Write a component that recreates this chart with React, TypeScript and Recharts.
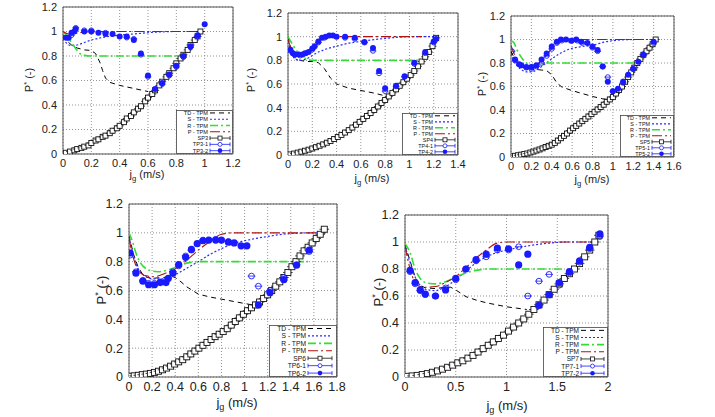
import React from 'react';
import { ComposedChart, Line, Scatter, XAxis, YAxis, CartesianGrid, ReferenceArea } from 'recharts';

type P = [number, number];

// ---------- Panel 1 (SP3) ----------
const p1XTicks = [0, 0.2, 0.4, 0.6, 0.8, 1, 1.2];
const p1Names = ['TD - TPM', 'S - TPM', 'R - TPM', 'P - TPM', 'SP3', 'TP3-1', 'TP3-2'];
const p1TD: P[] = [[0,0.97],[0.03,0.92],[0.06,0.89],[0.1,0.865],[0.15,0.85],[0.2,0.845],[0.23,0.82],[0.26,0.75],[0.28,0.68],[0.3,0.62],[0.33,0.585],[0.4,0.56],[0.5,0.535],[0.6,0.51]];
const p1S: P[] = [[0,0.94],[0.03,0.9],[0.06,0.885],[0.1,0.89],[0.15,0.91],[0.2,0.93],[0.3,0.955],[0.4,0.97],[0.5,0.98],[0.6,0.99],[0.8,1.0],[1.0,1.0]];
const p1R: P[] = [[0,1.0],[0.03,0.96],[0.06,0.91],[0.09,0.86],[0.12,0.82],[0.15,0.805],[0.2,0.8],[0.4,0.8],[0.6,0.8],[0.85,0.8]];
const p1P: P[] = [[0,1.0],[0.04,0.98],[0.08,0.985],[0.15,0.995],[0.3,1.0],[0.6,1.0],[1.0,1.0]];
const p1SP: P[] = [[0.02,0.01],[0.05,0.02],[0.08,0.03],[0.1,0.04],[0.13,0.05],[0.15,0.06],[0.18,0.07],[0.2,0.09],[0.23,0.11],[0.25,0.12],[0.28,0.14],[0.3,0.15],[0.33,0.17],[0.35,0.19],[0.38,0.21],[0.4,0.23],[0.43,0.26],[0.45,0.29],[0.48,0.31],[0.5,0.34],[0.53,0.37],[0.55,0.39],[0.58,0.43],[0.6,0.46],[0.63,0.49],[0.65,0.52],[0.68,0.56],[0.7,0.59],[0.73,0.63],[0.75,0.66],[0.78,0.7],[0.8,0.74],[0.83,0.78],[0.85,0.81],[0.88,0.85],[0.9,0.89],[0.93,0.93],[0.95,0.96],[0.97,1.0]];
const p1TP1: P[] = [[0.03,0.95],[0.06,0.97],[0.09,1.03],[0.15,1.01],[0.2,1.01],[0.3,0.99],[0.45,0.95],[0.5,0.94],[0.55,0.81],[0.6,0.63],[0.7,0.57],[0.75,0.64],[0.8,0.71],[0.85,0.79],[0.9,0.87],[0.95,0.96]];
const p1TP2: P[] = [[0.02,0.95],[0.04,0.95],[0.06,0.99],[0.08,1.0],[0.09,1.02],[0.15,1.0],[0.2,1.0],[0.25,0.99],[0.3,0.98],[0.35,0.98],[0.4,0.96],[0.45,0.96],[0.5,0.93],[0.55,0.82],[0.6,0.64],[0.65,0.53],[0.7,0.58],[0.75,0.65],[0.8,0.72],[0.85,0.8],[0.9,0.88],[0.95,0.97],[1.0,1.06]];

// ---------- Panel 2 (SP4) ----------
const p2XTicks = [0, 0.2, 0.4, 0.6, 0.8, 1, 1.2, 1.4];
const p2Names = ['TD - TPM', 'S - TPM', 'R - TPM', 'P - TPM', 'SP4', 'TP4-1', 'TP4-2'];
const p2TD: P[] = [[0,1.0],[0.03,0.88],[0.06,0.82],[0.1,0.8],[0.15,0.79],[0.2,0.79],[0.25,0.78],[0.3,0.73],[0.35,0.65],[0.4,0.6],[0.5,0.565],[0.6,0.545],[0.7,0.525],[0.8,0.5]];
const p2S: P[] = [[0,0.96],[0.03,0.86],[0.06,0.81],[0.1,0.8],[0.15,0.81],[0.2,0.84],[0.25,0.87],[0.3,0.89],[0.4,0.92],[0.5,0.945],[0.6,0.96],[0.8,0.985],[1.0,1.0],[1.22,1.0]];
const p2R: P[] = [[0,1.0],[0.04,0.93],[0.08,0.87],[0.12,0.83],[0.16,0.81],[0.2,0.8],[0.4,0.8],[0.8,0.8],[1.1,0.8]];
const p2P: P[] = [[0,0.98],[0.03,0.89],[0.06,0.86],[0.1,0.85],[0.15,0.86],[0.2,0.9],[0.25,0.95],[0.3,0.985],[0.35,1.0],[0.6,1.0],[0.9,1.0],[1.1,1.0]];
const p2SP: P[] = [[0.02,0.005],[0.05,0.012],[0.08,0.02],[0.11,0.028],[0.14,0.036],[0.17,0.045],[0.2,0.055],[0.23,0.066],[0.26,0.078],[0.29,0.09],[0.32,0.104],[0.35,0.118],[0.38,0.135],[0.41,0.152],[0.44,0.17],[0.47,0.19],[0.5,0.21],[0.53,0.232],[0.56,0.256],[0.59,0.28],[0.62,0.305],[0.65,0.33],[0.68,0.355],[0.71,0.38],[0.74,0.41],[0.77,0.44],[0.8,0.465],[0.83,0.495],[0.86,0.525],[0.89,0.555],[0.92,0.585],[0.95,0.615],[0.98,0.645],[1.01,0.675],[1.04,0.71],[1.07,0.75],[1.1,0.79],[1.13,0.83],[1.16,0.87],[1.19,0.92],[1.22,0.99]];
const p2TP1: P[] = [[0.02,0.88],[0.05,0.85],[0.1,0.84],[0.15,0.86],[0.2,0.89],[0.25,0.95],[0.3,0.99],[0.47,0.99],[0.55,0.98],[0.63,0.95],[0.7,0.88],[0.75,0.69],[0.8,0.54],[0.89,0.58],[0.96,0.66],[1.04,0.77],[1.13,0.86],[1.2,0.95]];
const p2TP2: P[] = [[0.02,0.89],[0.04,0.86],[0.06,0.85],[0.09,0.85],[0.12,0.85],[0.14,0.86],[0.17,0.87],[0.2,0.9],[0.22,0.92],[0.25,0.96],[0.28,0.99],[0.31,1.0],[0.34,1.01],[0.37,1.01],[0.4,1.0],[0.47,1.0],[0.55,0.99],[0.63,0.955],[0.7,0.905],[0.75,0.71],[0.8,0.565],[0.89,0.585],[0.96,0.665],[1.04,0.78],[1.13,0.87],[1.2,0.96],[1.22,0.98]];

// ---------- Panel 3 (SP5) ----------
const p3XTicks = [0, 0.2, 0.4, 0.6, 0.8, 1, 1.2, 1.4, 1.6];
const p3Names = ['TD - TPM', 'S - TPM', 'R - TPM', 'P - TPM', 'SP5', 'TP5-1', 'TP5-2'];
const p3TD: P[] = [[0,0.9],[0.05,0.81],[0.1,0.77],[0.15,0.755],[0.2,0.75],[0.25,0.745],[0.3,0.74],[0.35,0.735],[0.4,0.7],[0.45,0.63],[0.5,0.595],[0.6,0.565],[0.7,0.54],[0.8,0.515],[0.9,0.495],[0.95,0.49]];
const p3S: P[] = [[0,0.88],[0.05,0.79],[0.1,0.745],[0.15,0.725],[0.2,0.725],[0.25,0.74],[0.3,0.77],[0.4,0.835],[0.5,0.89],[0.6,0.925],[0.7,0.94],[0.8,0.95],[0.9,0.975],[1.0,0.99],[1.2,1.0],[1.42,1.0]];
const p3R: P[] = [[0,0.99],[0.03,0.97],[0.06,0.91],[0.1,0.85],[0.15,0.8],[0.2,0.785],[0.25,0.785],[0.3,0.79],[0.35,0.8],[0.6,0.8],[0.9,0.8],[1.2,0.8]];
const p3P: P[] = [[0,0.95],[0.04,0.86],[0.08,0.8],[0.12,0.78],[0.18,0.77],[0.24,0.78],[0.3,0.82],[0.36,0.88],[0.42,0.94],[0.5,0.985],[0.6,1.0],[0.9,1.0],[1.2,1.0],[1.42,1.0]];
const p3SP: P[] = [[0.01,0.005],[0.04,0.01],[0.07,0.015],[0.1,0.02],[0.13,0.025],[0.16,0.03],[0.19,0.038],[0.22,0.046],[0.25,0.055],[0.28,0.064],[0.31,0.074],[0.34,0.085],[0.37,0.095],[0.4,0.105],[0.43,0.12],[0.46,0.14],[0.49,0.16],[0.52,0.18],[0.55,0.2],[0.58,0.225],[0.61,0.245],[0.64,0.265],[0.67,0.285],[0.7,0.305],[0.73,0.325],[0.76,0.345],[0.79,0.365],[0.82,0.385],[0.85,0.405],[0.88,0.425],[0.91,0.445],[0.94,0.47],[0.97,0.49],[1.0,0.51],[1.03,0.54],[1.06,0.57],[1.09,0.6],[1.12,0.64],[1.15,0.68],[1.18,0.72],[1.21,0.76],[1.24,0.8],[1.27,0.835],[1.3,0.87],[1.33,0.9],[1.36,0.93],[1.39,0.96],[1.42,1.0]];
const p3TP1: P[] = [[0.01,0.9],[0.04,0.82],[0.1,0.78],[0.15,0.76],[0.2,0.75],[0.25,0.77],[0.3,0.8],[0.35,0.86],[0.4,0.92],[0.45,0.97],[0.5,0.99],[0.6,0.99],[0.65,0.99],[0.7,0.97],[0.8,0.93],[0.85,0.9],[0.9,0.77],[0.95,0.68],[1.0,0.56],[1.1,0.63],[1.2,0.75],[1.3,0.87],[1.4,0.97]];
const p3TP2: P[] = [[0.04,0.83],[0.08,0.79],[0.1,0.78],[0.15,0.765],[0.2,0.765],[0.25,0.78],[0.3,0.83],[0.35,0.88],[0.4,0.94],[0.45,0.98],[0.49,1.0],[0.54,1.0],[0.59,0.99],[0.64,1.0],[0.69,0.98],[0.75,0.97],[0.8,0.94],[0.85,0.91],[0.9,0.77],[0.95,0.64],[1.0,0.56],[1.05,0.58],[1.1,0.64],[1.15,0.7],[1.2,0.75],[1.25,0.81],[1.3,0.87],[1.4,0.98]];

// ---------- Panel 4 (SP6) ----------
const p4XTicks = [0, 0.2, 0.4, 0.6, 0.8, 1, 1.2, 1.4, 1.6, 1.8];
const p4Names = ['TD - TPM', 'S - TPM', 'R - TPM', 'P - TPM', 'SP6', 'TP6-1', 'TP6-2'];
const p4TD: P[] = [[0,0.98],[0.04,0.85],[0.08,0.76],[0.12,0.71],[0.16,0.69],[0.2,0.685],[0.3,0.69],[0.36,0.7],[0.4,0.69],[0.45,0.66],[0.5,0.625],[0.55,0.6],[0.6,0.575],[0.7,0.555],[0.8,0.54],[0.9,0.525],[1.0,0.51],[1.1,0.495]];
const p4S: P[] = [[0,0.97],[0.04,0.84],[0.08,0.75],[0.12,0.71],[0.16,0.69],[0.2,0.68],[0.3,0.68],[0.4,0.71],[0.5,0.755],[0.6,0.8],[0.7,0.85],[0.8,0.89],[0.9,0.925],[1.0,0.945],[1.2,0.975],[1.4,0.995],[1.6,1.0],[1.7,1.0]];
const p4R: P[] = [[0,1.0],[0.03,0.94],[0.06,0.86],[0.1,0.79],[0.15,0.75],[0.2,0.735],[0.25,0.73],[0.3,0.735],[0.35,0.745],[0.4,0.76],[0.45,0.775],[0.5,0.79],[0.6,0.8],[0.8,0.8],[1.0,0.8],[1.2,0.8],[1.55,0.8]];
const p4P: P[] = [[0,0.96],[0.04,0.82],[0.08,0.74],[0.12,0.71],[0.16,0.7],[0.2,0.695],[0.25,0.7],[0.3,0.715],[0.4,0.75],[0.5,0.81],[0.6,0.88],[0.7,0.94],[0.8,0.99],[0.9,1.0],[1.2,1.0],[1.7,1.0]];
const p4SP: P[] = [[0.01,0.005],[0.045,0.008],[0.08,0.012],[0.115,0.016],[0.15,0.02],[0.185,0.025],[0.22,0.032],[0.255,0.04],[0.29,0.05],[0.325,0.062],[0.36,0.075],[0.395,0.09],[0.43,0.105],[0.465,0.12],[0.5,0.14],[0.535,0.16],[0.57,0.18],[0.605,0.2],[0.64,0.22],[0.675,0.24],[0.71,0.26],[0.745,0.28],[0.78,0.297],[0.815,0.315],[0.85,0.335],[0.885,0.36],[0.92,0.385],[0.955,0.41],[0.99,0.435],[1.025,0.46],[1.06,0.48],[1.095,0.5],[1.13,0.52],[1.165,0.545],[1.2,0.57],[1.235,0.6],[1.27,0.63],[1.305,0.66],[1.34,0.69],[1.375,0.725],[1.41,0.765],[1.445,0.8],[1.48,0.84],[1.515,0.875],[1.55,0.9],[1.585,0.93],[1.62,0.96],[1.655,0.99],[1.69,1.025]];
const p4TP1: P[] = [[0.01,0.845],[0.06,0.73],[0.12,0.67],[0.17,0.65],[0.22,0.65],[0.27,0.66],[0.32,0.665],[0.38,0.73],[0.43,0.77],[0.49,0.84],[0.54,0.88],[0.64,0.95],[0.75,0.955],[0.86,0.94],[1.06,0.7],[1.12,0.63],[1.22,0.6],[1.34,0.69],[1.45,0.78],[1.56,0.87]];
const p4TP2: P[] = [[0.01,0.86],[0.06,0.72],[0.12,0.665],[0.17,0.64],[0.22,0.64],[0.27,0.655],[0.32,0.655],[0.34,0.685],[0.38,0.72],[0.43,0.78],[0.49,0.83],[0.54,0.885],[0.59,0.925],[0.64,0.945],[0.69,0.95],[0.75,0.95],[0.8,0.95],[0.86,0.935],[0.91,0.93],[0.97,0.91],[1.02,0.91],[1.12,0.5],[1.22,0.585],[1.34,0.675],[1.45,0.775],[1.56,0.88]];

// ---------- Panel 5 (SP7) ----------
const p5XTicks = [0, 0.5, 1, 1.5, 2];
const p5Names = ['TD - TPM', 'S - TPM', 'R - TPM', 'P - TPM', 'SP7', 'TP7-1', 'TP7-2'];
const p5TD: P[] = [[0,0.98],[0.05,0.86],[0.1,0.74],[0.15,0.68],[0.2,0.66],[0.3,0.655],[0.4,0.665],[0.45,0.665],[0.5,0.645],[0.6,0.595],[0.7,0.57],[0.8,0.55],[0.9,0.535],[1.0,0.52],[1.1,0.51],[1.2,0.5]];
const p5S: P[] = [[0,0.97],[0.05,0.85],[0.1,0.74],[0.15,0.68],[0.2,0.65],[0.3,0.64],[0.4,0.67],[0.5,0.72],[0.6,0.785],[0.7,0.845],[0.8,0.89],[0.9,0.92],[1.0,0.94],[1.2,0.97],[1.4,0.99],[1.6,1.0],[1.9,1.0]];
const p5R: P[] = [[0,0.99],[0.05,0.92],[0.1,0.8],[0.15,0.73],[0.2,0.7],[0.3,0.69],[0.4,0.705],[0.5,0.74],[0.6,0.77],[0.7,0.79],[0.8,0.8],[1.0,0.8],[1.3,0.8],[1.55,0.8]];
const p5P: P[] = [[0,0.97],[0.05,0.8],[0.1,0.7],[0.15,0.67],[0.2,0.665],[0.3,0.67],[0.4,0.7],[0.5,0.745],[0.6,0.81],[0.7,0.88],[0.8,0.94],[0.9,0.99],[1.0,1.0],[1.5,1.0],[1.9,1.0]];
const p5SP: P[] = [[0.02,0.005],[0.07,0.008],[0.12,0.012],[0.17,0.018],[0.22,0.025],[0.27,0.035],[0.32,0.045],[0.37,0.058],[0.42,0.072],[0.47,0.088],[0.52,0.105],[0.57,0.12],[0.62,0.14],[0.67,0.16],[0.72,0.185],[0.77,0.21],[0.82,0.235],[0.87,0.26],[0.92,0.285],[0.97,0.31],[1.02,0.34],[1.07,0.37],[1.12,0.4],[1.17,0.43],[1.22,0.465],[1.27,0.5],[1.32,0.535],[1.37,0.57],[1.42,0.61],[1.47,0.65],[1.52,0.69],[1.57,0.73],[1.62,0.765],[1.67,0.8],[1.72,0.84],[1.77,0.89],[1.82,0.94],[1.87,1.0],[1.91,1.05]];
const p5TP1: P[] = [[0.05,0.78],[0.1,0.69],[0.15,0.64],[0.2,0.61],[0.3,0.6],[0.4,0.66],[0.5,0.72],[0.6,0.8],[0.7,0.86],[0.8,0.89],[0.91,0.94],[1.02,0.94],[1.12,0.965],[1.21,0.6],[1.32,0.71],[1.42,0.76],[1.52,0.68],[1.62,0.77],[1.72,0.85],[1.82,0.95],[1.92,1.04]];
const p5TP2: P[] = [[0.05,0.79],[0.1,0.7],[0.15,0.645],[0.2,0.615],[0.3,0.6],[0.4,0.645],[0.5,0.73],[0.6,0.8],[0.7,0.87],[0.8,0.91],[0.91,0.955],[1.02,0.95],[1.12,0.83],[1.21,0.91],[1.32,0.53],[1.42,0.61],[1.52,0.7],[1.62,0.78],[1.72,0.86],[1.82,0.96],[1.92,1.06]];

const yTicks = [0, 0.2, 0.4, 0.6, 0.8, 1, 1.2];

const FONT = '"Liberation Sans", Arial, Helvetica, sans-serif';
const C_TD = '#000000';
const C_S = '#2a2aff';
const C_R = '#33dd33';
const C_P = '#b01010';
const C_BLUE = '#1a1aff';
const D_TD = '5 4';
const D_S = '2 2';
const D_R = '8 3 2 3';
const D_P = '10 3 2 3';

const toObj = (a: P[]) => a.map(([x, y]) => ({ x, y }));

type Cfg = {
  plot: { l: number; t: number; r: number; b: number };
  xMax: number;
  xTicks: number[];
  names: string[];
  td: P[]; s: P[]; rr: P[]; p: P[]; sp: P[]; tp1: P[]; tp2: P[];
  fs: number;
  mk: number;
  legend: { x: number; y: number; w: number; h: number; fs: number; te: number; s1: number; s2: number };
  ylab: { x: number; y: number };
  xlab: { x: number; y: number };
  tfs: number;
};

const cfgs: Cfg[] = [
  { plot: { l: 63, t: 7, r: 233, b: 154 }, xMax: 1.2, xTicks: p1XTicks, names: p1Names, td: p1TD, s: p1S, rr: p1R, p: p1P, sp: p1SP, tp1: p1TP1, tp2: p1TP2, fs: 11, mk: 1,
    legend: { x: 176, y: 110, w: 57, h: 44, fs: 5.6, te: 32, s1: 34, s2: 54 }, ylab: { x: 29, y: 80 }, xlab: { x: 147, y: 176 }, tfs: 11 },
  { plot: { l: 288, t: 13, r: 458, b: 155 }, xMax: 1.4, xTicks: p2XTicks, names: p2Names, td: p2TD, s: p2S, rr: p2R, p: p2P, sp: p2SP, tp1: p2TP1, tp2: p2TP2, fs: 11, mk: 1,
    legend: { x: 402, y: 113, w: 56, h: 42, fs: 5.4, te: 31, s1: 33, s2: 53 }, ylab: { x: 251, y: 80 }, xlab: { x: 372, y: 180 }, tfs: 11 },
  { plot: { l: 511, t: 16, r: 674, b: 157 }, xMax: 1.6, xTicks: p3XTicks, names: p3Names, td: p3TD, s: p3S, rr: p3R, p: p3P, sp: p3SP, tp1: p3TP1, tp2: p3TP2, fs: 11, mk: 1,
    legend: { x: 620, y: 115, w: 54, h: 42, fs: 5.4, te: 30, s1: 32, s2: 51 }, ylab: { x: 482, y: 84 }, xlab: { x: 592, y: 181 }, tfs: 11 },
  { plot: { l: 129, t: 204, r: 337, b: 377 }, xMax: 1.8, xTicks: p4XTicks, names: p4Names, td: p4TD, s: p4S, rr: p4R, p: p4P, sp: p4SP, tp1: p4TP1, tp2: p4TP2, fs: 12.5, mk: 1.2,
    legend: { x: 269, y: 325, w: 68, h: 52, fs: 6.7, te: 37, s1: 39, s2: 63 }, ylab: { x: 101, y: 290 }, xlab: { x: 237, y: 404 }, tfs: 13 },
  { plot: { l: 405, t: 215, r: 608, b: 377 }, xMax: 2, xTicks: p5XTicks, names: p5Names, td: p5TD, s: p5S, rr: p5R, p: p5P, sp: p5SP, tp1: p5TP1, tp2: p5TP2, fs: 12.5, mk: 1.2,
    legend: { x: 543, y: 327, w: 65, h: 50, fs: 6.5, te: 36, s1: 38, s2: 61 }, ylab: { x: 378, y: 292 }, xlab: { x: 507, y: 407 }, tfs: 13 },
];

const spShape = (k: number) => (p: any) => {
  const { cx, cy } = p;
  if (cx == null || cy == null) return <g />;
  const h = 2.5 * k;
  const e = 4 * k;
  return (
    <g>
      <line x1={cx - e} x2={cx + e} y1={cy} y2={cy} stroke="#111" strokeWidth={0.8} />
      <rect x={cx - h} y={cy - h} width={2 * h} height={2 * h} fill="#fff" stroke="#111" strokeWidth={0.9} />
    </g>
  );
};
const tp1Shape = (k: number) => (p: any) => {
  const { cx, cy } = p;
  if (cx == null || cy == null) return <g />;
  const r = 2.4 * k;
  return (
    <g>
      <line x1={cx - r - 1} x2={cx + r + 1} y1={cy} y2={cy} stroke={C_BLUE} strokeWidth={0.8} />
      <circle cx={cx} cy={cy} r={r} fill="none" stroke={C_BLUE} strokeWidth={0.9} />
    </g>
  );
};
const tp2Shape = (k: number) => (p: any) => {
  const { cx, cy } = p;
  if (cx == null || cy == null) return <g />;
  return <circle cx={cx} cy={cy} r={3 * k} fill={C_BLUE} stroke="none" />;
};

function Legend({ c }: { c: Cfg }) {
  const L = c.legend;
  const rh = L.h / 7;
  const styles = [
    { stroke: C_TD, dash: D_TD, w: 1 },
    { stroke: C_S, dash: D_S, w: 1.2 },
    { stroke: C_R, dash: D_R, w: 1.6 },
    { stroke: C_P, dash: D_P, w: 1.1 },
  ];
  const mid = (L.s1 + L.s2) / 2;
  return (
    <svg style={{ position: 'absolute', left: L.x, top: L.y, overflow: 'visible' }} width={L.w} height={L.h}>
      <rect x={0.5} y={0.5} width={L.w - 1} height={L.h - 1} fill="#fff" stroke="#444" strokeWidth={0.8} />
      {c.names.map((n, i) => {
        const cy = rh * (i + 0.5) - 0.2;
        return (
          <g key={n}>
            <text x={L.te} y={cy} fontSize={L.fs} fontFamily={FONT} textAnchor="end" dominantBaseline="central" fill="#111">{n}</text>
            {i < 4 && (
              <line x1={L.s1} x2={L.s2} y1={cy} y2={cy} stroke={styles[i].stroke} strokeDasharray={styles[i].dash} strokeWidth={styles[i].w} />
            )}
            {i >= 4 && (
              <g>
                <line x1={L.s1} x2={L.s2} y1={cy} y2={cy} stroke={i === 4 ? '#111' : C_BLUE} strokeWidth={0.8} />
                <line x1={L.s1} x2={L.s1} y1={cy - 2} y2={cy + 2} stroke={i === 4 ? '#111' : C_BLUE} strokeWidth={0.8} />
                <line x1={L.s2} x2={L.s2} y1={cy - 2} y2={cy + 2} stroke={i === 4 ? '#111' : C_BLUE} strokeWidth={0.8} />
                {i === 4 && <rect x={mid - 2} y={cy - 2} width={4} height={4} fill="#fff" stroke="#111" strokeWidth={0.8} />}
                {i === 5 && <circle cx={mid} cy={cy} r={2} fill="#fff" stroke={C_BLUE} strokeWidth={0.8} />}
                {i === 6 && <circle cx={mid} cy={cy} r={2.3} fill={C_BLUE} />}
              </g>
            )}
          </g>
        );
      })}
    </svg>
  );
}

function Panel({ c }: { c: Cfg }) {
  const { l, t, r, b } = c.plot;
  const mt = Math.min(10, t);
  const W = r - l + 60;
  const H = b - t + 25 + mt;
  const tick = { fontSize: c.fs, fill: '#222', fontFamily: FONT };
  return (
    <>
      <div style={{ position: 'absolute', left: l - 45, top: t - mt, width: W, height: H }}>
        <ComposedChart width={W} height={H} margin={{ top: mt, right: 15, bottom: 0, left: 5 }}>
          <CartesianGrid stroke="#777" strokeDasharray="1 2" strokeWidth={0.8} />
          <XAxis dataKey="x" type="number" domain={[0, c.xMax]} ticks={c.xTicks} interval={0} allowDataOverflow
            axisLine={false} tickLine={false} tickSize={0} tickMargin={5} height={25} tick={tick} />
          <YAxis type="number" domain={[0, 1.2]} ticks={yTicks} interval={0} allowDataOverflow
            axisLine={false} tickLine={false} tickSize={0} tickMargin={6} width={40} tick={tick} />
          <ReferenceArea x1={0} x2={c.xMax} y1={0} y2={1.2} fill="none" fillOpacity={0} stroke="#555" strokeWidth={1} />
          <Line data={toObj(c.td)} dataKey="y" type="linear" stroke={C_TD} strokeDasharray={D_TD} strokeWidth={1} dot={false} isAnimationActive={false} />
          <Line data={toObj(c.s)} dataKey="y" type="monotone" stroke={C_S} strokeDasharray={D_S} strokeWidth={1.2} dot={false} isAnimationActive={false} />
          <Line data={toObj(c.rr)} dataKey="y" type="monotone" stroke={C_R} strokeDasharray={D_R} strokeWidth={1.6} dot={false} isAnimationActive={false} />
          <Line data={toObj(c.p)} dataKey="y" type="monotone" stroke={C_P} strokeDasharray={D_P} strokeWidth={1.1} dot={false} isAnimationActive={false} />
          <Scatter data={toObj(c.sp)} dataKey="y" shape={spShape(c.mk)} isAnimationActive={false} />
          <Scatter data={toObj(c.tp1)} dataKey="y" shape={tp1Shape(c.mk)} isAnimationActive={false} />
          <Scatter data={toObj(c.tp2)} dataKey="y" shape={tp2Shape(c.mk)} isAnimationActive={false} />
        </ComposedChart>
      </div>
      <Legend c={c} />
      <div style={{ position: 'absolute', left: c.ylab.x, top: c.ylab.y, transform: 'translate(-50%, -50%) rotate(-90deg)', whiteSpace: 'nowrap', fontFamily: FONT, fontSize: c.tfs, color: '#222', lineHeight: 1 }}>
        P<span style={{ fontSize: c.tfs * 0.7, verticalAlign: 'super' }}>*</span> (-)
      </div>
      <div style={{ position: 'absolute', left: c.xlab.x, top: c.xlab.y, transform: 'translate(-50%, -50%)', whiteSpace: 'nowrap', fontFamily: FONT, fontSize: c.tfs, color: '#222', lineHeight: 1 }}>
        j<span style={{ fontSize: c.tfs * 0.7, verticalAlign: 'sub' }}>g</span> (m/s)
      </div>
    </>
  );
}

export default function App() {
  return (
    <div style={{ position: 'absolute', left: 0, top: 0, width: 715, height: 417, background: '#fff', overflow: 'hidden' }}>
      {cfgs.map((c, i) => <Panel key={i} c={c} />)}
    </div>
  );
}
